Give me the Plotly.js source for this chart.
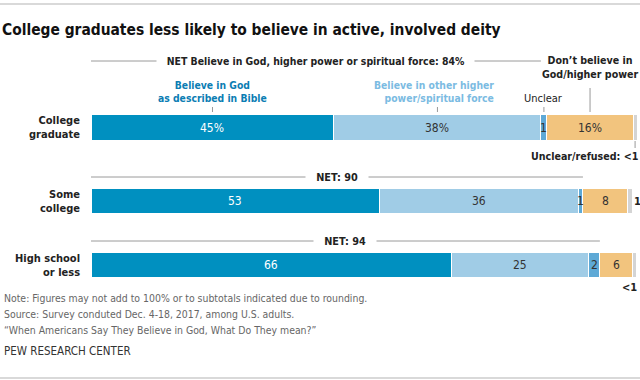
<!DOCTYPE html>
<html><head><meta charset="utf-8">
<script src="https://cdn.plot.ly/plotly-3.0.1.min.js"></script>
<style>body{margin:0;background:#fff}#c{width:640px;height:380px}</style>
</head><body><div id="c"></div>
<script>
// ---- data ----
const categories = ["College<br>graduate", "Some<br>college", "High school<br>or less"];
const seriesNames = ["Believe in God as described in Bible", "Believe in other higher power/spiritual force", "Unclear", "Don't believe in God/higher power", "Unclear/refused"];
const bible = [44.5, 52.9, 66.1];
const otherPower = [37.9, 36.3, 25.1];
const unclear = [1.1, 0.9, 2.0];
const dontBelieve = [15.8, 8.1, 6.0];
const refused = [0.7, 0.9, 0.7];
const bibleLabels = ["45%", "53", "66"];
const otherLabels = ["38%", "36", "25"];
const unclearLabels = ["1", "1", "2"];
const dontLabels = ["16%", "8", "6"];
const refusedLabels = ["<1", "1", "<1"];
const netLabels = ["NET Believe in God, higher power or spiritual force: 84%", "NET: 90", "NET: 94"];

// ---- layout constants ----
const FONT = "'DejaVu Sans Condensed', 'Liberation Sans Narrow', sans-serif";
const W = 640, H = 380, L = 91, R = 3;
const PW = W - L - R;
const px = v => (v - L) / PW;        // pixel x -> paper x
const rowY = [127.5, 201, 265];      // bar centres in pixel units (y axis is in px)
const barW = 25.5;
const colors = ["#0090c0", "#a0cce6", "#5ea9d6", "#f2c47e", "#d4d4d4"];
const series = [bible, otherPower, unclear, dontBelieve, refused];
const labels = [bibleLabels, otherLabels, unclearLabels, dontLabels, refusedLabels];

const traces = series.map((vals, k) => ({
  type: "bar", orientation: "h", name: seriesNames[k],
  x: vals, y: rowY, width: barW,
  marker: {color: colors[k], line: {color: "#ffffff", width: 1}},
  hoverinfo: "none", showlegend: false
}));

const ann = [];
const shapes = [];
const cum = (r, k) => series.slice(0, k).reduce((s, a) => s + a[r], 0);
const B = (size, color) => ({family: FONT, size: size, color: color, weight: "bold"});

// category labels
categories.forEach((c, r) => ann.push({
  xref: "paper", yref: "y", x: 0, y: rowY[r], xanchor: "right", yanchor: "middle",
  xshift: -9, align: "right", showarrow: false, text: c, font: B(11, "#222")
}));

// segment labels
for (let r = 0; r < 3; r++) {
  for (let k = 0; k < 4; k++) {
    ann.push({
      xref: "x", yref: "y", x: cum(r, k) + series[k][r] / 2, y: rowY[r],
      showarrow: false, text: labels[k][r], xanchor: "center", yanchor: "middle",
      font: {family: FONT, size: 12, color: k === 0 ? "#ffffff" : "#333333"}
    });
  }
}
const tot = r => cum(r, 5);
// refused labels
ann.push({xref: "x", yref: "y", x: tot(0), y: 156, xanchor: "right", xshift: 3, showarrow: false,
  text: "Unclear/refused: " + refusedLabels[0], font: B(10.6, "#222")});
ann.push({xref: "x", yref: "y", x: tot(1), y: rowY[1], xanchor: "left", xshift: 0, showarrow: false,
  text: refusedLabels[1], font: B(11, "#222")});
ann.push({xref: "x", yref: "y", x: tot(2), y: 287, xanchor: "right", xshift: 3, showarrow: false,
  text: refusedLabels[2], font: B(11, "#222")});
shapes.push({type: "line", xref: "x", yref: "y", x0: cum(0, 4) + refused[0] / 2, x1: cum(0, 4) + refused[0] / 2,
  y0: 141, y1: 148, line: {color: "#999", width: 1}});

// NET lines
const netY = [61, 177, 241];
const netEnd = [cum(0, 2), cum(1, 3), cum(2, 3)];
for (let r = 0; r < 3; r++) {
  shapes.push({type: "line", xref: "x", yref: "y", x0: 0, x1: netEnd[r], y0: netY[r], y1: netY[r],
    line: {color: "#9a9a9a", width: 1}});
  ann.push({xref: "x", yref: "y", x: netEnd[r] / 2, y: netY[r], xanchor: "center", yanchor: "middle",
    showarrow: false, bgcolor: "#ffffff", borderpad: 0,
    text: "\u00a0\u00a0\u00a0" + netLabels[r] + "\u00a0\u00a0\u00a0",
    font: B(r === 0 ? 10.4 : 10.8, "#222")});
}

// header labels (first row)
ann.push({xref: "x", yref: "y", x: bible[0] / 2, y: 91, showarrow: false, xanchor: "center", yanchor: "middle",
  align: "center", text: "Believe in God<br>as described in Bible", font: B(10.3, "#0b7db3")});
ann.push({xref: "x", yref: "y", x: cum(0, 1) + otherPower[0] / 2, y: 91, showarrow: false, xanchor: "right", xshift: 59,
  yanchor: "middle", align: "right", text: "Believe in other higher<br>power/spiritual force", font: B(10.3, "#7bbbe2")});
ann.push({xref: "x", yref: "y", x: cum(0, 2) + unclear[0] / 2, y: 98, showarrow: false, xanchor: "center",
  yanchor: "middle", text: "Unclear", font: {family: FONT, size: 11, color: "#222"}});
ann.push({xref: "x", yref: "y", x: cum(0, 3) + dontBelieve[0] / 2, y: 67, showarrow: false, xanchor: "center",
  yanchor: "middle", align: "center", text: "Don\u2019t believe in<br>God/higher power", font: B(10.6, "#222")});
[[bible[0] / 2, 107], [cum(0, 1) + otherPower[0] / 2, 107], [cum(0, 2) + unclear[0] / 2, 107], [cum(0, 3) + dontBelieve[0] / 2, 88]]
  .forEach(([x, y0]) => shapes.push({type: "line", xref: "x", yref: "y", x0: x, x1: x, y0: y0, y1: 112,
    line: {color: "#999", width: 1}}));

// notes
const notes = [
  ["Note: Figures may not add to 100% or to subtotals indicated due to rounding.", 298, "#666"],
  ["Source: Survey conduted Dec. 4-18, 2017, among U.S. adults.", 314, "#666"],
  ["\u201cWhen Americans Say They Believe in God, What Do They mean?\u201d", 330, "#666"],
  ["PEW RESEARCH CENTER", 351, "#333"]
];
notes.forEach(([t, y, c], i) => ann.push({xref: "paper", yref: "y", x: px(2), y: y, xanchor: "left", yanchor: "middle",
  showarrow: false, text: t, font: {family: FONT, size: i === 3 ? 11.5 : 10.4, color: c}}));

// frame lines
shapes.push({type: "line", xref: "paper", yref: "y", x0: px(0), x1: px(640), y0: 4, y1: 4, line: {color: "#cccccc", width: 1.5}});
shapes.push({type: "line", xref: "paper", yref: "y", x0: px(0), x1: px(640), y0: 378, y1: 378, line: {color: "#cccccc", width: 1.5}});

const layout = {
  width: W, height: H, margin: {l: L, r: R, t: 0, b: 0},
  paper_bgcolor: "#fff", plot_bgcolor: "#fff", barmode: "stack", bargap: 0,
  title: {text: "College graduates less likely to believe in active, involved deity",
    x: 2 / W, xanchor: "left", xref: "container", y: 1 - 30 / H, yanchor: "middle", yref: "container",
    font: B(15.4, "#111")},
  xaxis: {range: [0, 100], visible: false, fixedrange: true},
  yaxis: {range: [H, 0], visible: false, fixedrange: true},
  annotations: ann, shapes: shapes, showlegend: false
};
Plotly.newPlot("c", traces, layout, {staticPlot: true, displayModeBar: false});
</script></body></html>
